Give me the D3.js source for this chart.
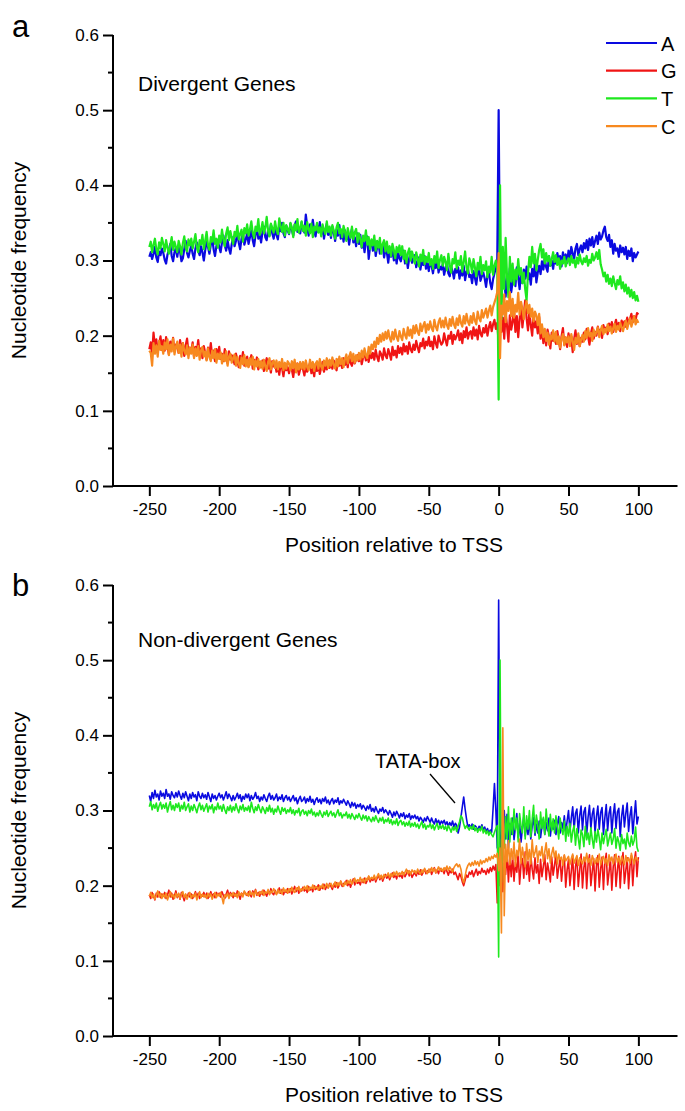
<!DOCTYPE html>
<html>
<head>
<meta charset="utf-8">
<script src="https://cdn.jsdelivr.net/npm/d3@7"></script>
<style>
  html, body { margin: 0; padding: 0; background: #fff; }
  svg { display: block; }
  text { font-family: "Liberation Sans", Arial, Helvetica, sans-serif; fill: #000; }
</style>
</head>
<body>
<svg id="chart" width="685" height="1111"></svg>
<script>
// ---------------- DATA ----------------
const positions = d3.range(-250, 101); // -250 .. 100
const nucleotides = ["A", "G", "T", "C"];
const xTickValues = [-250, -200, -150, -100, -50, 0, 50, 100];
const yTickValues = [0, 0.1, 0.2, 0.3, 0.4, 0.5, 0.6];
const yMinorValues = [0.05, 0.15, 0.25, 0.35, 0.45, 0.55];
const panelLetters = ["a", "b"];
const panelTitles = ["Divergent Genes", "Non-divergent Genes"];

// Panel a (divergent genes)
const aA = [
.305,.311,.302,.309,.318,.304,.298,.312,.307,.316,
.310,.301,.296,.308,.314,.322,.306,.299,.311,.317,
.305,.318,.312,.299,.303,.315,.326,.310,.304,.313,
.320,.309,.302,.316,.324,.313,.307,.319,.311,.300,
.314,.325,.318,.309,.321,.330,.315,.306,.319,.327,
.318,.311,.324,.333,.320,.313,.327,.316,.309,.322,
.331,.319,.326,.337,.324,.315,.329,.336,.321,.328,
.336,.322,.331,.340,.327,.319,.334,.343,.329,.335,
.324,.338,.345,.331,.327,.341,.333,.348,.336,.329,
.343,.334,.328,.345,.339,.350,.336,.331,.346,.340,
.335,.349,.341,.333,.347,.352,.338,.344,.336,.351,
.342,.337,.361,.345,.333,.348,.340,.354,.339,.332,
.347,.338,.351,.335,.344,.329,.341,.349,.334,.343,
.330,.345,.337,.326,.341,.333,.347,.329,.338,.325,
.340,.328,.335,.321,.334,.342,.324,.331,.319,.336,
.322,.334,.317,.328,.311,.325,.332,.302,.319,.326,
.313,.327,.306,.318,.324,.309,.316,.321,.304,.315,
.311,.297,.314,.305,.318,.300,.309,.296,.312,.303,
.299,.308,.313,.296,.305,.290,.303,.311,.297,.302,
.307,.291,.298,.304,.288,.300,.294,.306,.289,.297,
.286,.299,.293,.283,.296,.290,.301,.284,.292,.288,
.295,.281,.290,.297,.283,.279,.292,.286,.276,.289,
.284,.291,.276,.287,.280,.293,.274,.285,.289,.278,
.281,.270,.286,.277,.268,.283,.290,.273,.279,.284,
.276,.265,.280,.286,.270,.262,.275,.283,.290,.300,
.500,.262,.245,.298,.276,.252,.281,.264,.290,.258,
.272,.285,.266,.291,.278,.262,.283,.270,.288,.276,
.292,.275,.283,.268,.289,.279,.296,.271,.284,.293,
.282,.299,.288,.303,.291,.285,.306,.293,.300,.289,
.304,.296,.310,.299,.306,.292,.311,.301,.308,.297,
.313,.304,.318,.309,.302,.316,.322,.307,.315,.320,
.311,.323,.316,.327,.314,.329,.320,.331,.318,.326,
.333,.322,.337,.328,.332,.340,.345,.331,.326,.334,
.318,.327,.309,.322,.313,.316,.305,.320,.311,.317,
.308,.318,.302,.313,.306,.316,.299,.310,.304,.308,
.312];
const aG = [
.182,.191,.176,.204,.185,.195,.178,.189,.199,.181,
.194,.180,.198,.186,.175,.192,.184,.197,.179,.188,
.185,.177,.194,.182,.190,.173,.187,.196,.178,.184,
.180,.191,.172,.185,.179,.194,.176,.183,.170,.186,
.177,.168,.184,.174,.190,.171,.180,.166,.182,.173,
.185,.169,.176,.166,.182,.172,.163,.179,.168,.174,
.170,.162,.176,.167,.158,.173,.164,.178,.160,.169,
.172,.159,.166,.174,.156,.168,.161,.171,.155,.165,
.158,.167,.153,.162,.170,.156,.163,.151,.166,.159,
.164,.152,.160,.148,.163,.157,.146,.161,.154,.158,
.150,.161,.155,.145,.159,.152,.163,.148,.156,.160,
.155,.147,.161,.152,.158,.164,.150,.157,.146,.162,
.153,.162,.149,.158,.165,.152,.161,.155,.166,.157,
.163,.156,.167,.159,.154,.168,.160,.165,.157,.170,
.161,.169,.158,.172,.164,.160,.171,.163,.168,.174,
.166,.175,.162,.171,.178,.167,.174,.165,.179,.170,
.177,.168,.181,.172,.166,.179,.175,.168,.183,.174,
.170,.182,.176,.168,.185,.174,.180,.171,.186,.177,
.184,.175,.189,.179,.186,.176,.191,.182,.178,.188,
.181,.193,.185,.178,.190,.186,.196,.183,.192,.187,
.198,.186,.192,.182,.199,.190,.184,.200,.193,.188,
.191,.203,.194,.187,.200,.196,.205,.189,.201,.195,
.200,.207,.194,.203,.190,.206,.198,.211,.196,.204,
.206,.196,.211,.200,.208,.195,.213,.203,.199,.210,
.204,.214,.200,.211,.218,.206,.215,.221,.209,.217,
.190,.238,.205,.224,.196,.231,.213,.192,.227,.208,
.218,.235,.205,.226,.198,.222,.240,.211,.229,.247,
.223,.207,.232,.214,.200,.228,.211,.219,.203,.225,
.196,.212,.190,.205,.187,.208,.199,.183,.204,.193,
.201,.189,.206,.194,.182,.199,.210,.188,.197,.185,
.203,.191,.198,.178,.195,.207,.189,.200,.186,.197,
.192,.204,.195,.209,.199,.188,.203,.211,.196,.205,
.200,.212,.203,.208,.197,.214,.206,.211,.202,.216,
.209,.218,.205,.214,.221,.210,.217,.206,.220,.213,
.219,.212,.224,.216,.222,.229,.218,.226,.221,.230,
.228];
const aT = [
.318,.325,.311,.321,.329,.315,.308,.324,.316,.330,
.322,.312,.327,.317,.309,.320,.331,.314,.325,.318,
.311,.326,.319,.308,.323,.332,.317,.312,.328,.320,
.329,.316,.325,.335,.318,.311,.327,.321,.334,.315,
.326,.338,.320,.314,.331,.325,.340,.322,.329,.317,
.333,.324,.341,.328,.319,.336,.344,.327,.339,.330,
.322,.338,.332,.346,.328,.335,.341,.325,.343,.336,
.348,.333,.341,.352,.337,.330,.345,.339,.355,.334,
.340,.351,.336,.344,.358,.339,.332,.349,.343,.337,
.352,.341,.335,.356,.346,.338,.350,.333,.347,.342,
.336,.350,.344,.331,.348,.340,.355,.337,.343,.352,
.339,.346,.333,.351,.342,.336,.349,.331,.345,.340,
.350,.337,.344,.332,.348,.341,.335,.352,.338,.345,
.333,.347,.340,.329,.344,.350,.336,.342,.331,.346,
.339,.326,.343,.335,.330,.345,.328,.337,.342,.324,
.336,.329,.318,.333,.326,.340,.321,.331,.315,.328,
.320,.333,.313,.326,.317,.330,.309,.322,.327,.312,
.325,.310,.319,.306,.322,.314,.303,.318,.311,.320,
.307,.319,.302,.313,.297,.310,.316,.300,.312,.305,
.296,.311,.303,.292,.308,.299,.314,.295,.305,.298,
.310,.294,.302,.289,.306,.297,.312,.290,.301,.307,
.293,.305,.298,.287,.309,.295,.284,.302,.296,.311,
.289,.300,.294,.306,.285,.298,.312,.291,.283,.303,
.296,.284,.302,.291,.279,.297,.288,.305,.282,.294,
.287,.299,.278,.292,.284,.305,.281,.293,.300,.288,
.115,.400,.222,.318,.262,.330,.278,.251,.305,.272,
.296,.268,.288,.275,.302,.281,.290,.270,.284,.262,
.247,.283,.305,.291,.318,.296,.309,.287,.301,.314,
.322,.304,.315,.296,.310,.299,.306,.293,.302,.311,
.298,.307,.294,.303,.289,.300,.296,.305,.292,.299,
.303,.294,.306,.297,.301,.291,.304,.296,.308,.299,
.295,.303,.298,.306,.293,.301,.297,.309,.300,.304,
.311,.302,.314,.295,.288,.279,.284,.272,.281,.269,
.276,.266,.279,.270,.262,.274,.268,.279,.263,.271,
.259,.268,.256,.264,.252,.261,.250,.258,.247,.253,
.245];
const aC = [
.180,.177,.160,.190,.176,.187,.172,.193,.181,.186,
.176,.191,.182,.195,.174,.188,.179,.196,.175,.185,
.192,.177,.188,.172,.190,.180,.175,.187,.170,.184,
.176,.188,.170,.183,.173,.186,.168,.180,.185,.172,
.179,.167,.183,.171,.166,.180,.170,.182,.164,.176,
.169,.178,.163,.175,.166,.179,.160,.172,.176,.164,
.170,.175,.160,.172,.163,.157,.171,.162,.174,.159,
.168,.158,.170,.161,.172,.155,.167,.159,.169,.157,
.166,.156,.168,.159,.153,.165,.170,.155,.164,.167,
.157,.167,.155,.165,.158,.169,.154,.164,.156,.166,
.163,.154,.166,.157,.168,.151,.163,.155,.165,.156,
.165,.155,.167,.158,.154,.168,.157,.165,.153,.163,
.166,.156,.169,.159,.155,.167,.160,.170,.157,.168,
.160,.171,.161,.156,.169,.159,.172,.162,.170,.158,
.169,.175,.163,.172,.178,.166,.176,.164,.174,.167,
.177,.168,.180,.171,.183,.174,.170,.185,.176,.188,
.182,.192,.184,.197,.189,.201,.192,.203,.194,.205,
.196,.207,.197,.192,.205,.195,.208,.198,.193,.206,
.199,.194,.209,.201,.196,.211,.200,.208,.197,.213,
.203,.214,.205,.201,.216,.206,.213,.218,.204,.215,
.208,.219,.210,.206,.221,.212,.207,.218,.223,.211,
.220,.211,.224,.214,.209,.222,.213,.225,.215,.210,
.223,.214,.227,.217,.212,.226,.216,.229,.219,.214,
.226,.217,.230,.220,.215,.232,.223,.219,.234,.224,
.230,.236,.224,.233,.240,.227,.238,.244,.250,.258,
.310,.170,.240,.228,.255,.218,.246,.233,.258,.226,
.249,.224,.241,.232,.257,.228,.245,.236,.222,.238,
.246,.230,.241,.225,.236,.219,.232,.227,.214,.229,
.203,.215,.198,.209,.193,.204,.188,.200,.195,.207,
.192,.205,.189,.199,.184,.196,.202,.187,.198,.191,
.199,.186,.202,.193,.181,.197,.190,.203,.186,.195,
.201,.192,.206,.197,.210,.199,.204,.193,.208,.200,
.205,.211,.198,.207,.213,.202,.209,.204,.215,.206,
.212,.203,.210,.216,.205,.213,.208,.217,.211,.206,
.214,.220,.209,.217,.223,.212,.219,.226,.215,.221,
.217];

// Panel b (non-divergent genes)
const bA = [
.320,.312,.324,.316,.327,.318,.322,.314,.326,.319,
.323,.316,.328,.319,.322,.315,.325,.320,.317,.324,
.318,.326,.320,.315,.323,.317,.325,.319,.313,.322,
.316,.324,.318,.321,.313,.325,.319,.316,.323,.317,
.321,.315,.324,.318,.312,.322,.316,.320,.314,.319,
.323,.317,.321,.314,.319,.325,.316,.322,.318,.313,
.320,.314,.318,.323,.316,.321,.312,.319,.315,.322,
.317,.322,.313,.320,.315,.318,.324,.316,.319,.312,
.318,.314,.321,.316,.312,.319,.323,.315,.320,.314,
.317,.322,.313,.318,.315,.321,.312,.317,.320,.314,
.318,.312,.316,.320,.313,.317,.309,.315,.319,.312,
.314,.318,.310,.316,.312,.319,.311,.315,.308,.314,
.317,.311,.315,.309,.316,.312,.318,.310,.314,.308,
.313,.316,.309,.314,.311,.317,.308,.313,.310,.315,
.311,.307,.313,.309,.304,.311,.306,.310,.303,.308,
.305,.309,.302,.307,.304,.300,.306,.302,.308,.299,
.303,.298,.305,.300,.296,.302,.299,.304,.297,.301,
.298,.294,.300,.296,.291,.298,.293,.299,.295,.290,
.296,.292,.297,.289,.294,.291,.296,.288,.293,.290,
.294,.289,.292,.286,.291,.288,.284,.290,.286,.292,
.288,.284,.290,.285,.282,.289,.283,.287,.281,.286,
.283,.287,.281,.285,.279,.284,.280,.286,.278,.283,
.280,.270,.278,.291,.305,.318,.302,.289,.278,.281,
.277,.282,.275,.280,.278,.273,.279,.276,.281,.274,
.278,.272,.276,.270,.274,.271,.302,.336,.300,.250,
.580,.272,.228,.285,.300,.262,.295,.250,.283,.268,
.290,.261,.278,.296,.264,.283,.258,.276,.292,.266,
.281,.268,.287,.262,.279,.291,.267,.282,.270,.286,
.264,.279,.289,.268,.284,.273,.290,.266,.282,.275,
.287,.268,.281,.292,.270,.284,.276,.293,.271,.286,
.300,.272,.290,.305,.275,.296,.302,.270,.293,.306,
.274,.298,.304,.268,.291,.307,.276,.295,.303,.270,
.292,.306,.275,.297,.304,.268,.290,.308,.273,.296,
.305,.270,.294,.309,.276,.298,.303,.265,.292,.307,
.278,.296,.310,.272,.293,.305,.269,.291,.313,.282,
.292];
const bG = [
.188,.183,.191,.186,.181,.190,.185,.192,.184,.189,
.186,.191,.183,.188,.194,.185,.190,.182,.187,.193,
.184,.189,.182,.191,.186,.180,.188,.184,.190,.185,
.189,.183,.187,.192,.185,.190,.183,.188,.186,.191,
.185,.190,.183,.187,.192,.186,.189,.184,.191,.187,
.190,.185,.192,.187,.183,.189,.194,.186,.191,.188,
.184,.190,.186,.193,.188,.182,.190,.187,.192,.189,
.187,.192,.188,.185,.193,.189,.195,.187,.191,.186,
.192,.188,.194,.190,.186,.193,.189,.196,.190,.188,
.194,.189,.192,.197,.190,.195,.188,.193,.191,.196,
.191,.196,.189,.194,.199,.192,.197,.190,.195,.193,
.198,.193,.196,.191,.199,.194,.197,.192,.200,.195,
.197,.201,.194,.199,.196,.202,.195,.200,.197,.203,
.199,.195,.202,.198,.204,.197,.201,.206,.199,.203,
.202,.207,.200,.205,.198,.204,.209,.201,.206,.203,
.205,.201,.208,.204,.210,.203,.207,.212,.205,.209,
.207,.212,.205,.210,.214,.208,.213,.206,.211,.215,
.210,.214,.208,.213,.217,.211,.215,.209,.216,.212,
.214,.210,.217,.212,.216,.220,.213,.218,.211,.215,
.217,.213,.219,.215,.221,.214,.218,.222,.216,.220,
.218,.222,.215,.220,.224,.217,.221,.216,.223,.219,
.221,.216,.223,.219,.214,.220,.217,.222,.215,.218,
.213,.208,.216,.212,.205,.200,.207,.214,.211,.218,
.215,.220,.212,.217,.222,.214,.219,.216,.223,.218,
.220,.215,.222,.217,.224,.219,.226,.221,.228,.177,
.250,.200,.262,.192,.230,.215,.243,.205,.238,.212,
.240,.206,.231,.218,.244,.202,.228,.236,.210,.245,
.215,.232,.206,.240,.222,.209,.237,.217,.228,.203,
.235,.212,.226,.241,.208,.230,.219,.205,.238,.214,
.227,.242,.210,.224,.236,.206,.228,.240,.198,.221,
.235,.200,.219,.240,.195,.225,.238,.199,.220,.242,
.197,.224,.237,.196,.228,.241,.200,.219,.236,.193,
.226,.240,.198,.222,.238,.195,.230,.243,.201,.218,
.236,.194,.225,.241,.199,.221,.239,.197,.228,.244,
.203,.220,.237,.196,.226,.240,.200,.231,.245,.212,
.238];
const bT = [
.305,.312,.301,.308,.303,.310,.299,.306,.311,.302,
.308,.303,.310,.298,.306,.312,.301,.307,.300,.309,
.304,.310,.299,.307,.302,.311,.300,.305,.309,.298,
.306,.300,.308,.303,.297,.305,.310,.301,.307,.299,
.304,.309,.298,.306,.302,.308,.297,.305,.301,.310,
.302,.306,.299,.308,.301,.296,.305,.300,.307,.298,
.305,.300,.309,.302,.297,.306,.301,.308,.299,.304,
.300,.306,.298,.311,.303,.297,.305,.300,.308,.302,
.297,.305,.301,.296,.304,.299,.307,.298,.303,.295,
.302,.298,.306,.300,.295,.304,.299,.303,.296,.301,
.298,.304,.296,.301,.294,.300,.297,.303,.293,.299,
.301,.295,.299,.293,.300,.296,.302,.294,.298,.292,
.297,.293,.300,.295,.291,.298,.294,.300,.292,.296,
.299,.293,.297,.291,.296,.301,.293,.297,.290,.295,
.293,.298,.290,.295,.289,.296,.292,.288,.294,.290,
.296,.291,.287,.294,.289,.293,.286,.292,.288,.285,
.291,.286,.293,.288,.284,.290,.286,.291,.283,.288,
.285,.290,.283,.288,.281,.286,.282,.289,.280,.285,
.287,.281,.285,.279,.284,.280,.286,.278,.283,.279,
.284,.278,.282,.276,.281,.285,.277,.282,.275,.280,
.278,.283,.276,.281,.274,.279,.283,.275,.280,.276,
.281,.275,.279,.273,.280,.276,.271,.278,.274,.279,
.272,.279,.285,.293,.290,.282,.276,.280,.277,.274,
.279,.275,.281,.273,.277,.271,.276,.273,.279,.270,
.275,.269,.273,.267,.272,.268,.265,.271,.276,.280,
.105,.500,.205,.270,.250,.292,.262,.305,.258,.290,
.268,.302,.274,.290,.258,.296,.280,.270,.305,.262,
.293,.275,.300,.265,.288,.307,.270,.294,.281,.262,
.298,.276,.291,.268,.302,.280,.266,.295,.273,.289,
.270,.293,.278,.262,.290,.275,.268,.286,.259,.279,
.266,.283,.258,.272,.280,.254,.276,.263,.249,.274,
.268,.252,.279,.261,.270,.255,.277,.262,.250,.272,
.258,.275,.264,.248,.270,.256,.266,.275,.253,.262,
.270,.255,.262,.276,.250,.265,.258,.247,.268,.256,
.262,.249,.270,.257,.252,.266,.254,.260,.278,.251,
.245];
const bC = [
.186,.191,.184,.189,.182,.187,.193,.185,.190,.183,
.189,.184,.190,.181,.187,.192,.185,.188,.183,.190,
.185,.190,.183,.188,.192,.184,.189,.182,.187,.191,
.183,.188,.185,.190,.181,.187,.192,.184,.189,.185,
.188,.183,.190,.185,.189,.182,.187,.191,.184,.189,
.186,.191,.184,.176,.188,.185,.190,.183,.189,.186,
.191,.186,.189,.184,.192,.187,.190,.185,.193,.188,
.190,.186,.193,.188,.191,.185,.194,.189,.187,.192,
.189,.194,.187,.192,.190,.195,.188,.193,.191,.196,
.192,.188,.195,.190,.194,.189,.197,.192,.195,.190,
.196,.192,.198,.193,.191,.197,.194,.199,.192,.196,
.194,.199,.195,.200,.193,.198,.196,.201,.195,.199,
.198,.194,.200,.197,.202,.196,.199,.203,.197,.201,
.203,.198,.201,.205,.199,.204,.200,.206,.202,.199,
.205,.201,.207,.203,.208,.202,.206,.210,.204,.208,
.206,.211,.205,.209,.204,.210,.207,.213,.208,.211,
.209,.214,.208,.212,.216,.210,.214,.209,.215,.212,
.213,.217,.211,.216,.212,.218,.214,.219,.213,.217,
.215,.219,.214,.218,.222,.216,.220,.215,.221,.218,
.220,.216,.222,.218,.215,.221,.217,.223,.219,.216,
.222,.218,.224,.219,.223,.217,.221,.225,.220,.223,
.219,.224,.221,.226,.220,.225,.222,.218,.224,.227,
.229,.225,.228,.222,.210,.204,.213,.222,.227,.230,
.226,.231,.227,.233,.228,.232,.226,.234,.229,.233,
.231,.236,.232,.238,.234,.239,.236,.241,.238,.243,
.220,.250,.137,.410,.160,.255,.232,.260,.228,.249,
.235,.258,.226,.247,.240,.262,.230,.251,.238,.225,
.256,.234,.248,.229,.261,.238,.244,.253,.231,.246,
.240,.252,.232,.245,.257,.236,.249,.230,.243,.251,
.237,.246,.229,.242,.235,.238,.227,.241,.233,.236,
.239,.228,.236,.242,.230,.235,.240,.227,.237,.233,
.229,.238,.232,.243,.231,.236,.227,.240,.234,.229,
.237,.231,.242,.228,.235,.239,.230,.236,.227,.241,
.233,.238,.229,.236,.242,.231,.237,.228,.239,.234,
.228,.240,.232,.237,.230,.243,.235,.229,.238,.236,
.233];

// ---------------- STYLE / LAYOUT ----------------
const colors = { A: "#0a0ae0", G: "#f01414", T: "#1ee81e", C: "#f7891f" };
const FONT_TICK = 17, FONT_TITLE = 21;

const panels = [
  { series: { A: aA, G: aG, T: aT, C: aC }, y0: 486, y1: 35, lw: 2.2, letterY: 37, labelY: 91, legend: true, tata: false },
  { series: { A: bA, G: bG, T: bT, C: bC }, y0: 1036, y1: 585, lw: 1.6, letterY: 596, labelY: 647, legend: false, tata: true }
];

const svg = d3.select("#chart");
const x = d3.scaleLinear().domain([-276, 128]).range([113, 677.5]);

panels.forEach((p, i) => {
  const g = svg.append("g");
  const y = d3.scaleLinear().domain([0, 0.6]).range([p.y0, p.y1]);

  // lines (draw order A, G, T, C)
  const line = d3.line().x((d, k) => x(positions[k])).y(d => y(d));
  ["A", "G", "T", "C"].forEach(n => {
    g.append("path")
      .datum(p.series[n])
      .attr("fill", "none")
      .attr("stroke", colors[n])
      .attr("stroke-width", p.lw)
      .attr("stroke-linejoin", "round")
      .attr("d", line);
  });

  // y axis
  const yAxis = d3.axisLeft(y).tickValues(yTickValues).tickFormat(d => d.toFixed(1)).tickSize(10).tickPadding(4);
  const ya = g.append("g").attr("transform", `translate(${x.range()[0]},0)`).call(yAxis);
  ya.select(".domain").remove();
  ya.append("line").attr("x1", 0).attr("x2", 0).attr("y1", p.y1).attr("y2", p.y0 + 1).attr("stroke", "#000").attr("stroke-width", 2);
  ya.selectAll(".tick line").attr("stroke", "#000").attr("stroke-width", 2);
  ya.selectAll(".tick text").style("font-size", FONT_TICK + "px").attr("fill", "#000");
  ya.selectAll(".minor").data(yMinorValues).enter().append("line")
    .attr("x1", -5).attr("x2", 0).attr("y1", d => y(d)).attr("y2", d => y(d))
    .attr("stroke", "#000").attr("stroke-width", 2);

  // x axis (plain hyphen-minus labels)
  const xAxis = d3.axisBottom(x).tickValues(xTickValues).tickFormat(d => String(d)).tickSize(10).tickPadding(4);
  const xa = g.append("g").attr("transform", `translate(0,${p.y0})`).call(xAxis);
  xa.select(".domain").remove();
  xa.append("line").attr("x1", x.range()[0] - 1).attr("x2", x.range()[1]).attr("y1", 0).attr("y2", 0).attr("stroke", "#000").attr("stroke-width", 2);
  xa.selectAll(".tick line").attr("stroke", "#000").attr("stroke-width", 2);
  xa.selectAll(".tick text").style("font-size", FONT_TICK + "px").attr("fill", "#000").attr("dy", "0.9em");

  // axis titles
  g.append("text").attr("x", 394).attr("y", p.y0 + 66).attr("text-anchor", "middle")
    .style("font-size", FONT_TITLE + "px").text("Position relative to TSS");
  g.append("text").attr("transform", `translate(26,${(p.y0 + p.y1) / 2}) rotate(-90)`)
    .attr("text-anchor", "middle").style("font-size", FONT_TITLE + "px").text("Nucleotide frequency");

  // panel letter and subtitle
  g.append("text").attr("x", 12).attr("y", p.letterY).style("font-size", "31px").text(panelLetters[i]);
  g.append("text").attr("x", 138).attr("y", p.labelY).style("font-size", FONT_TITLE + "px").text(panelTitles[i]);

  // legend
  if (p.legend) {
    nucleotides.forEach((n, k) => {
      const ly = 43 + k * 27.7;
      g.append("line").attr("x1", 606).attr("x2", 657).attr("y1", ly).attr("y2", ly)
        .attr("stroke", colors[n]).attr("stroke-width", 2.2);
      g.append("text").attr("x", 661).attr("y", ly + 7.5).style("font-size", "20px").text(n);
    });
  }

  // TATA-box annotation
  if (p.tata) {
    g.append("text").attr("x", 375).attr("y", 768).style("font-size", "20px").text("TATA-box");
    g.append("line").attr("x1", 430).attr("y1", 774).attr("x2", 455).attr("y2", 803)
      .attr("stroke", "#000").attr("stroke-width", 1.3);
  }
});
</script>
</body>
</html>
